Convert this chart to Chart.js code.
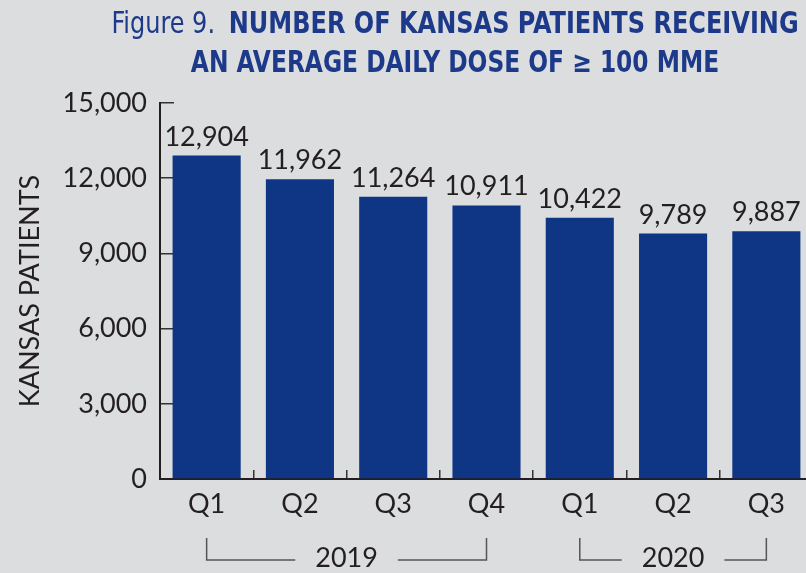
<!DOCTYPE html>
<html>
<head>
<meta charset="utf-8">
<script src="https://cdn.jsdelivr.net/npm/chart.js@4.4.1/dist/chart.umd.min.js"></script>
<style>
  html, body { margin: 0; padding: 0; background: #dcdddf; overflow: hidden; }
  #wrap { position: relative; width: 806px; height: 573px; overflow: hidden; }
  .tline {
    position: absolute; left: 0; width: 910px; text-align: center;
    color: #1d3a8a; font: bold 30px 'DejaVu Sans Condensed', 'Liberation Sans Narrow', sans-serif;
    line-height: 40px; white-space: nowrap; transform-origin: 455px 50%;
  }
  #t1 { top: 3px; transform: scaleX(0.89); }
  #t2 { top: 42px; transform: scaleX(0.865); }
  .fig { font-weight: normal; margin-right: 6px; }
  canvas { position: absolute; left: 0; top: 0; }
</style>
</head>
<body>
<div id="wrap">
  <canvas id="chart" width="813" height="573"></canvas>
  <div class="tline" id="t1"><span class="fig">Figure 9.</span> NUMBER OF KANSAS PATIENTS RECEIVING</div>
  <div class="tline" id="t2">AN AVERAGE DAILY DOSE OF ≥ 100 MME</div>
</div>
<script>
// ── Data ─────────────────────────────────────────────
const QUARTERS = ['Q1', 'Q2', 'Q3', 'Q4', 'Q1', 'Q2', 'Q3'];
const PATIENTS = [12904, 11962, 11264, 10911, 10422, 9789, 9887];
const YEARS    = ['2019', '2020'];
const YEAR_FROM = [0, 4];   // first quarter index of each year
const YEAR_TO   = [3, 6];   // last quarter index of each year
const Y_MIN = 0, Y_MAX = 15000, Y_STEP = 3000;

const INK  = '#231f20';
const BAR  = '#0f3585';
const FONT = 'Lato, "Open Sans", sans-serif';

const fmt = v => Number(v).toLocaleString('en-US');

// value labels above bars
const valueLabels = {
  id: 'valueLabels',
  afterDatasetsDraw(chart) {
    const { ctx } = chart;
    const meta = chart.getDatasetMeta(0);
    ctx.save();
    ctx.fillStyle = INK;
    ctx.font = '27px ' + FONT;
    ctx.textAlign = 'center';
    ctx.textBaseline = 'alphabetic';
    meta.data.forEach((bar, i) => {
      ctx.fillText(fmt(PATIENTS[i]), bar.x, bar.y - 10);
    });
    ctx.restore();
  },
};

// year brackets under quarter labels
const yearBrackets = {
  id: 'yearBrackets',
  afterDraw(chart) {
    const { ctx, chartArea } = chart;
    const x = chart.scales.x;
    const yTop = chartArea.bottom + 59;
    const yLine = chartArea.bottom + 81;
    ctx.save();
    ctx.strokeStyle = '#555';
    ctx.lineWidth = 1.5;
    ctx.fillStyle = INK;
    ctx.font = '27px ' + FONT;
    ctx.textAlign = 'center';
    ctx.textBaseline = 'middle';
    YEARS.forEach((yr, i) => {
      const x1 = x.getPixelForValue(YEAR_FROM[i]);
      const x2 = x.getPixelForValue(YEAR_TO[i]);
      const mid = (x1 + x2) / 2;
      const half = ctx.measureText(yr).width / 2 + 20;
      ctx.beginPath();
      ctx.moveTo(x1, yTop); ctx.lineTo(x1, yLine); ctx.lineTo(mid - half, yLine);
      ctx.moveTo(mid + half, yLine); ctx.lineTo(x2, yLine); ctx.lineTo(x2, yTop);
      ctx.stroke();
      ctx.fillText(yr, mid, yLine - 2);
    });
    ctx.restore();
  },
};

new Chart(document.getElementById('chart'), {
  type: 'bar',
  data: {
    labels: QUARTERS,
    datasets: [{
      data: PATIENTS,
      backgroundColor: BAR,
      borderWidth: 0,
      barPercentage: 0.73,
      categoryPercentage: 1,
    }],
  },
  options: {
    responsive: false,
    animation: false,
    devicePixelRatio: 1,
    layout: { padding: { top: 103, left: 0, right: 0, bottom: 0 } },
    plugins: { legend: { display: false }, tooltip: { enabled: false }, title: { display: false } },
    scales: {
      x: {
        grid: { drawOnChartArea: false, drawTicks: true, tickLength: -9, color: '#333', lineWidth: 1.5 },
        border: { color: '#231f20', width: 2 },
        ticks: { color: INK, font: { family: FONT, size: 27 }, padding: 18, maxRotation: 0 },
        afterFit: s => { s.height = 94; },
      },
      y: {
        min: Y_MIN, max: Y_MAX,
        grid: { drawOnChartArea: false, drawTicks: true, tickLength: -14, color: '#333', lineWidth: 1.5 },
        border: { color: '#231f20', width: 2 },
        ticks: { stepSize: Y_STEP, color: INK, font: { family: FONT, size: 27 }, padding: 27, callback: fmt },
        title: { display: true, text: 'KANSAS PATIENTS', color: INK, font: { family: FONT, size: 27 }, padding: { top: 14, bottom: 0 } },
        afterFit: s => { s.width = 160; },
      },
    },
  },
  plugins: [valueLabels, yearBrackets],
});
</script>
</body>
</html>
